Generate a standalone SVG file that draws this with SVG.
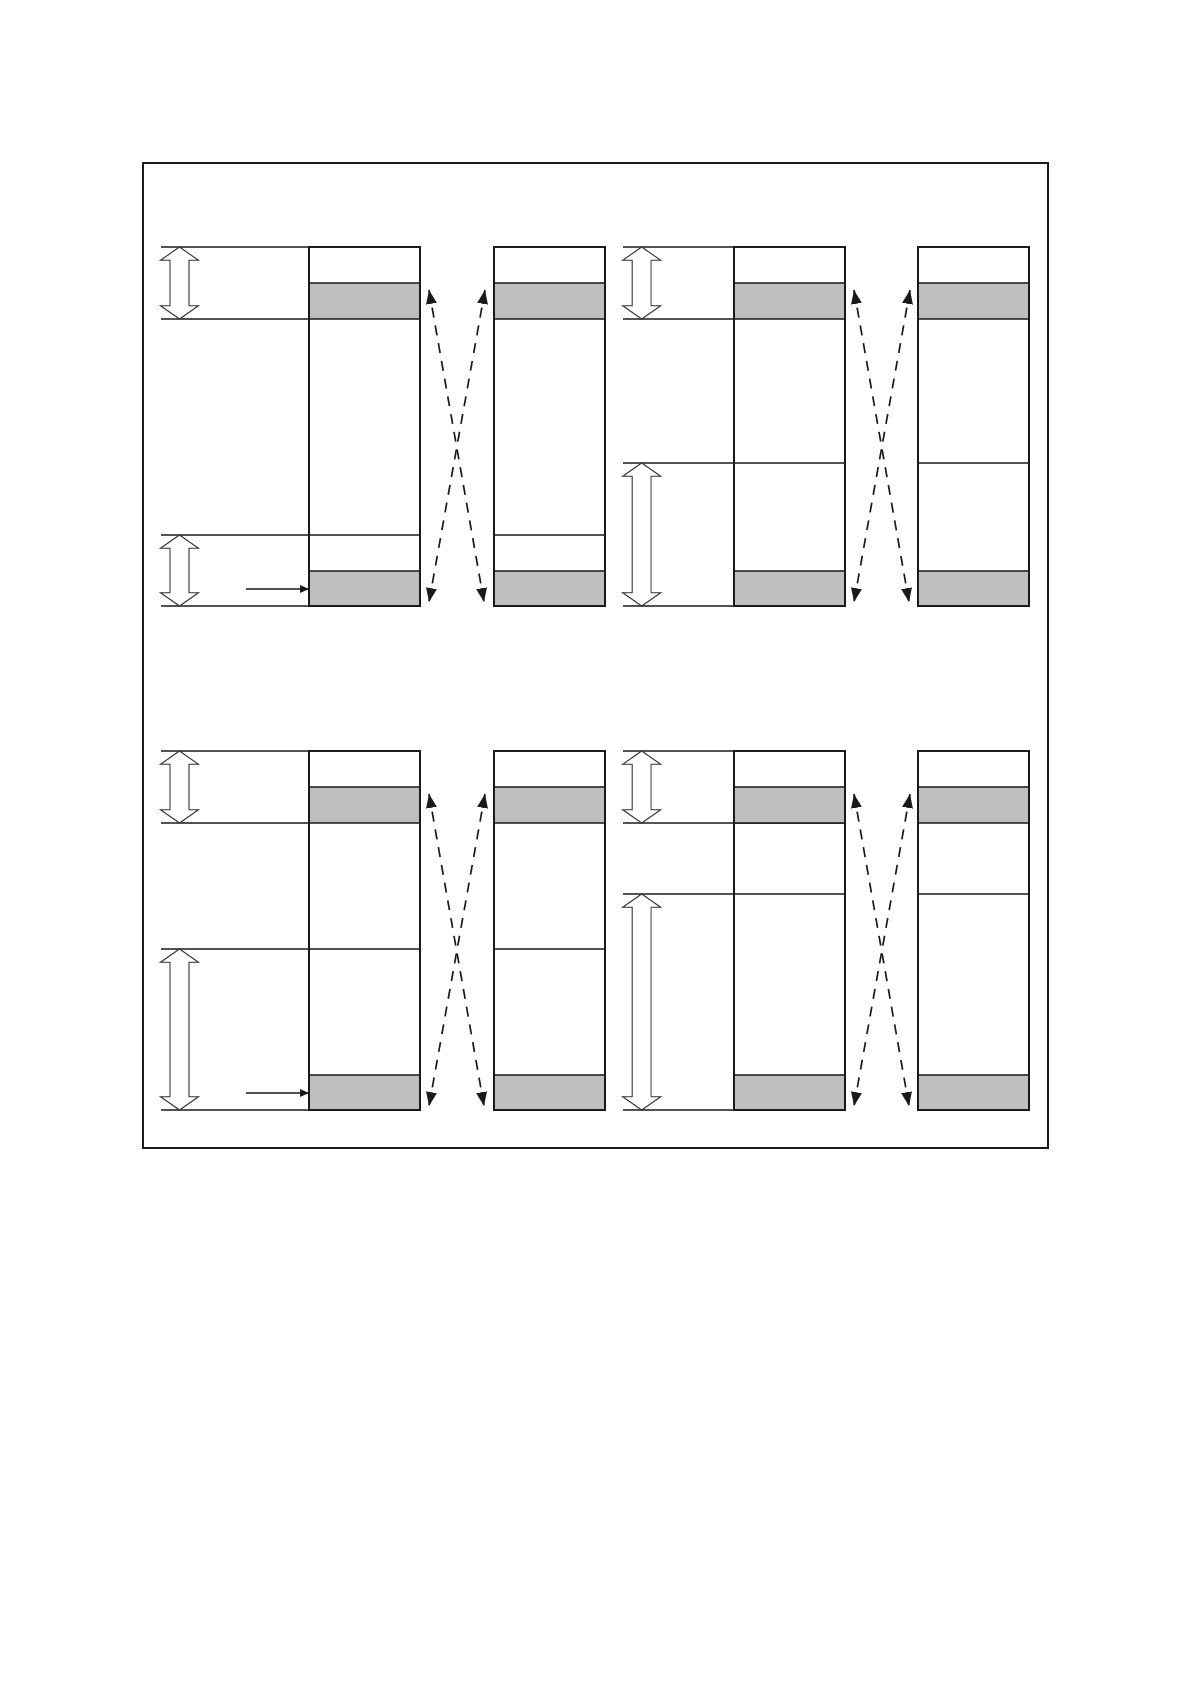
<svg xmlns="http://www.w3.org/2000/svg" width="1190" height="1684" viewBox="0 0 1190 1684">
<defs>
<style>
.frame{fill:none;stroke:#1a1a1a;stroke-width:2}
.box{fill:none;stroke:#1a1a1a;stroke-width:2}
.band{fill:#bdbec0;stroke:#1a1a1a;stroke-width:1.5}
.hl{stroke:#1a1a1a;stroke-width:1.4;fill:none}
.dash{stroke:#1a1a1a;stroke-width:1.7;stroke-dasharray:10 8;fill:none}
.solid{stroke:#1a1a1a;stroke-width:1.3;fill:none}
.hollow{fill:#fff;stroke:#333;stroke-width:1.1;stroke-linejoin:miter}
.shade{stroke:#999;stroke-width:1.6}
</style>
<marker id="ah" viewBox="0 0 14 11" refX="14" refY="5.5" markerWidth="14" markerHeight="11" markerUnits="userSpaceOnUse" orient="auto-start-reverse">
<path d="M0,0 L14,5.5 L0,11 Z" fill="#1a1a1a"/>
</marker>
<marker id="sa" viewBox="0 0 9 8" refX="9" refY="4" markerWidth="9" markerHeight="8" markerUnits="userSpaceOnUse" orient="auto">
<path d="M0,0 L9,4 L0,8 Z" fill="#1a1a1a"/>
</marker>
<g id="colTL">
<rect class="band" x="0" y="36" width="111" height="36"/>
<rect class="band" x="0" y="324" width="111" height="35"/>
<rect class="box" x="0" y="0" width="111" height="359"/>
</g>
</defs>
<rect class="frame" x="143" y="163" width="905" height="985"/>

<!-- Panel top-left -->
<g id="panel-tl">
<g id="tl-guides">
<line class="hl" x1="161" y1="247" x2="309" y2="247"/>
<line class="hl" x1="161" y1="319" x2="309" y2="319"/>
<line class="hl" x1="161" y1="535" x2="420" y2="535"/>
<line class="hl" x1="161" y1="606" x2="309" y2="606"/>
<line class="hl" x1="494" y1="535" x2="605" y2="535"/>
</g>
<g id="tl-col1"><use href="#colTL" x="309" y="247"/></g>
<g id="tl-col2"><use href="#colTL" x="494" y="247"/></g>
<g id="tl-dim1">
<polygon class="hollow" points="179.5,247 198.5,260.3 189,260.3 189,305.7 198.5,305.7 179.5,319 160.5,305.7 170,305.7 170,260.3 160.5,260.3"/>
<line class="shade" x1="170" y1="261" x2="170" y2="305"/>
</g>
<g id="tl-dim2">
<polygon class="hollow" points="179.5,535 198.5,548.3 189,548.3 189,592.7 198.5,592.7 179.5,606 160.5,592.7 170,592.7 170,548.3 160.5,548.3"/>
<line class="shade" x1="170" y1="549" x2="170" y2="592"/>
</g>
</g>

<!-- Panel top-right -->
<g id="panel-tr">
<g id="tr-guides">
<line class="hl" x1="623" y1="247" x2="734" y2="247"/>
<line class="hl" x1="623" y1="319" x2="734" y2="319"/>
<line class="hl" x1="623" y1="463" x2="845" y2="463"/>
<line class="hl" x1="623" y1="606" x2="734" y2="606"/>
<line class="hl" x1="918" y1="463" x2="1029" y2="463"/>
</g>
<g id="tr-col1"><use href="#colTL" x="734" y="247"/></g>
<g id="tr-col2"><use href="#colTL" x="918" y="247"/></g>
<g id="tr-dim1">
<polygon class="hollow" points="641.7,247 660.7,260.3 651.2,260.3 651.2,305.7 660.7,305.7 641.7,319 622.7,305.7 632.2,305.7 632.2,260.3 622.7,260.3"/>
<line class="shade" x1="651.2" y1="261" x2="651.2" y2="305"/>
</g>
<g id="tr-dim2">
<polygon class="hollow" points="641.7,463 660.7,476.3 651.2,476.3 651.2,592.7 660.7,592.7 641.7,606 622.7,592.7 632.2,592.7 632.2,476.3 622.7,476.3"/>
<line class="shade" x1="651.2" y1="477" x2="651.2" y2="592"/>
</g>
</g>

<!-- Panel bottom-left -->
<g id="panel-bl">
<g id="bl-guides">
<line class="hl" x1="161" y1="751" x2="309" y2="751"/>
<line class="hl" x1="161" y1="823" x2="309" y2="823"/>
<line class="hl" x1="161" y1="949" x2="420" y2="949"/>
<line class="hl" x1="161" y1="1110" x2="309" y2="1110"/>
<line class="hl" x1="494" y1="949" x2="605" y2="949"/>
</g>
<g id="bl-col1"><use href="#colTL" x="309" y="751"/></g>
<g id="bl-col2"><use href="#colTL" x="494" y="751"/></g>
<g id="bl-dim1">
<polygon class="hollow" points="179.5,751 198.5,764.3 189,764.3 189,809.7 198.5,809.7 179.5,823 160.5,809.7 170,809.7 170,764.3 160.5,764.3"/>
<line class="shade" x1="170" y1="765" x2="170" y2="809"/>
</g>
<g id="bl-dim2">
<polygon class="hollow" points="179.5,949 198.5,962.3 189,962.3 189,1096.7 198.5,1096.7 179.5,1110 160.5,1096.7 170,1096.7 170,962.3 160.5,962.3"/>
<line class="shade" x1="170" y1="963" x2="170" y2="1096"/>
</g>
</g>

<!-- Panel bottom-right -->
<g id="panel-br">
<g id="br-guides">
<line class="hl" x1="623" y1="751" x2="734" y2="751"/>
<line class="hl" x1="623" y1="823" x2="845" y2="823"/>
<line class="hl" x1="623" y1="894" x2="845" y2="894"/>
<line class="hl" x1="623" y1="1110" x2="734" y2="1110"/>
<line class="hl" x1="918" y1="894" x2="1029" y2="894"/>
</g>
<g id="br-col1"><use href="#colTL" x="734" y="751"/></g>
<g id="br-col2"><use href="#colTL" x="918" y="751"/></g>
<g id="br-dim1">
<polygon class="hollow" points="641.7,751 660.7,764.3 651.2,764.3 651.2,809.7 660.7,809.7 641.7,823 622.7,809.7 632.2,809.7 632.2,764.3 622.7,764.3"/>
<line class="shade" x1="651.2" y1="765" x2="651.2" y2="809"/>
</g>
<g id="br-dim2">
<polygon class="hollow" points="641.7,894 660.7,907.3 651.2,907.3 651.2,1096.7 660.7,1096.7 641.7,1110 622.7,1096.7 632.2,1096.7 632.2,907.3 622.7,907.3"/>
<line class="shade" x1="651.2" y1="908" x2="651.2" y2="1096"/>
</g>
</g>

<!-- Connectors -->
<g id="connectors">
<line class="dash" x1="429" y1="290" x2="484" y2="602" marker-start="url(#ah)" marker-end="url(#ah)"/>
<line class="dash" x1="485" y1="290" x2="429" y2="602" marker-start="url(#ah)" marker-end="url(#ah)"/>
<line class="dash" x1="854" y1="290" x2="909" y2="602" marker-start="url(#ah)" marker-end="url(#ah)"/>
<line class="dash" x1="910" y1="290" x2="854" y2="602" marker-start="url(#ah)" marker-end="url(#ah)"/>
<line class="dash" x1="429" y1="794" x2="484" y2="1106" marker-start="url(#ah)" marker-end="url(#ah)"/>
<line class="dash" x1="485" y1="794" x2="429" y2="1106" marker-start="url(#ah)" marker-end="url(#ah)"/>
<line class="dash" x1="854" y1="794" x2="909" y2="1106" marker-start="url(#ah)" marker-end="url(#ah)"/>
<line class="dash" x1="910" y1="794" x2="854" y2="1106" marker-start="url(#ah)" marker-end="url(#ah)"/>
<line class="solid" x1="246" y1="589" x2="309" y2="589" marker-end="url(#sa)"/>
<line class="solid" x1="246" y1="1093" x2="309" y2="1093" marker-end="url(#sa)"/>
</g>
</svg>
